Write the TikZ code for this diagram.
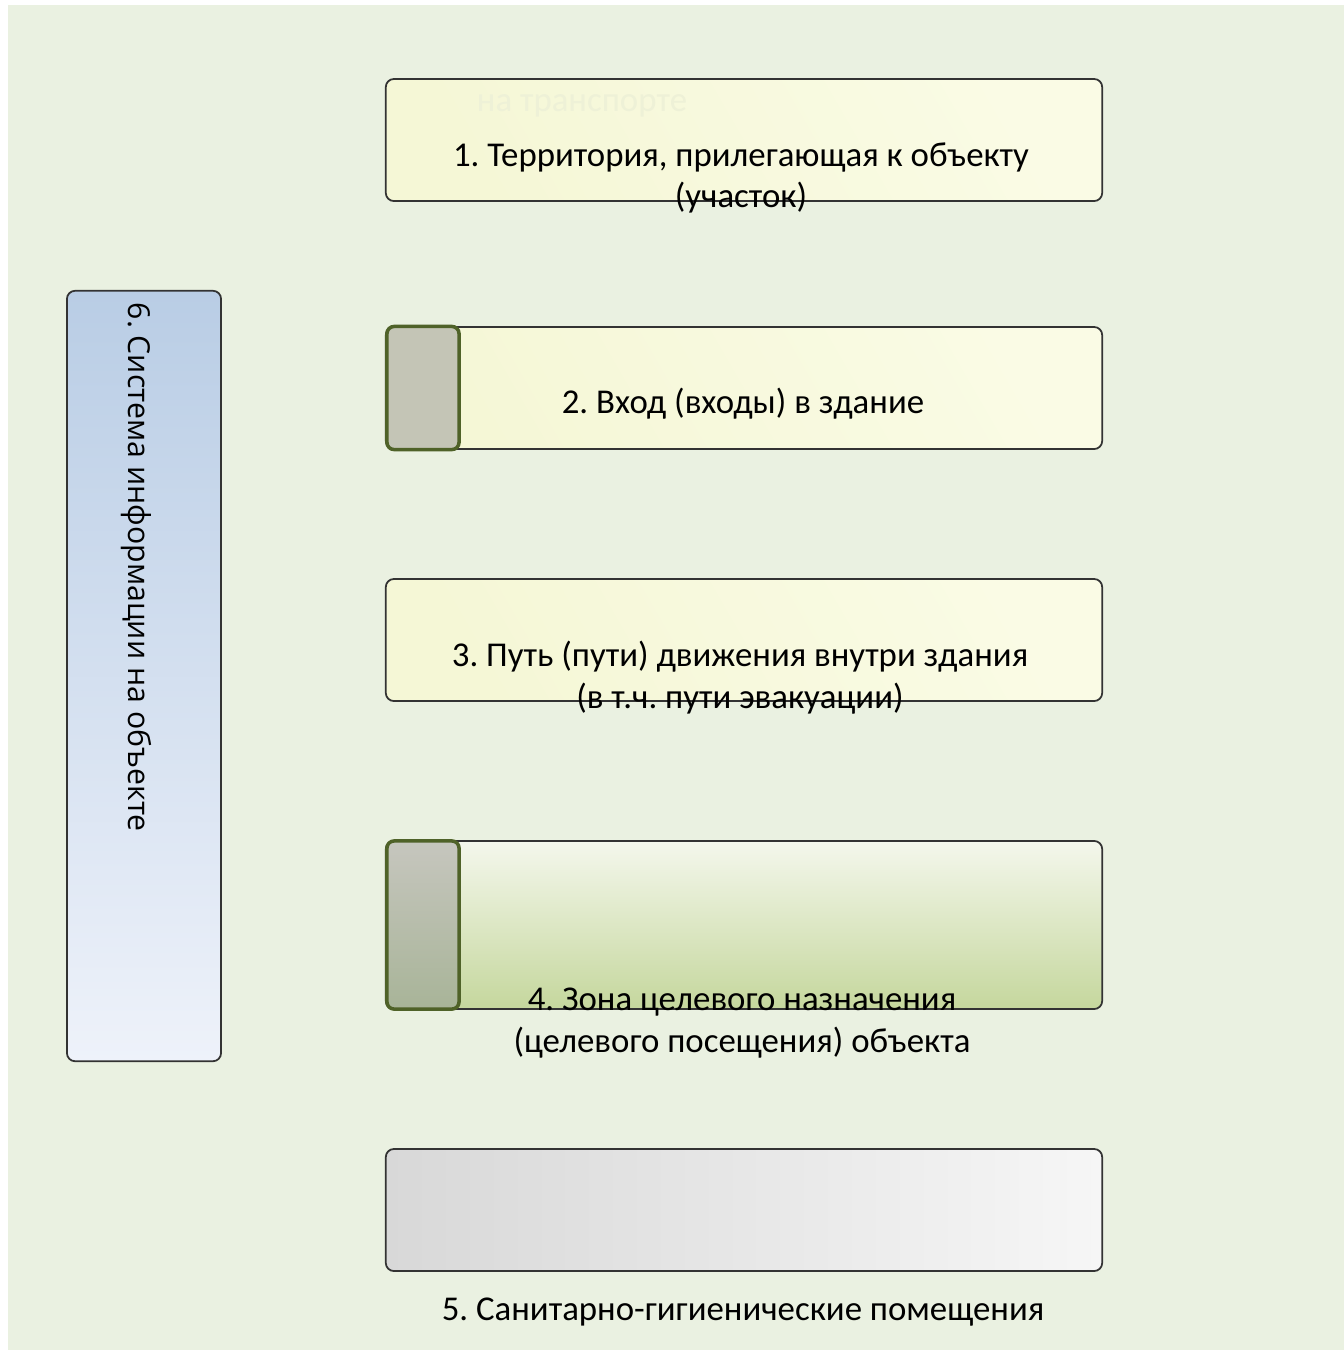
\documentclass[tikz,border=0pt]{standalone}
\usepackage{fontspec}
\setmainfont{Carlito}
\newfontfamily\sidefont{Open Sans}
\usetikzlibrary{positioning}
\frenchspacing

\definecolor{panelgreen}{HTML}{EAF1E1}
\definecolor{paleA}{HTML}{F5F7D6}
\definecolor{paleB}{HTML}{FAFBE5}
\definecolor{olive}{HTML}{4F6228}
\definecolor{tabgrey}{HTML}{C4C5B6}
\definecolor{ghost}{HTML}{EEF1D7}

\tikzset{
	zone/.style={draw=black!80, line width=0.5pt, rounded corners=2.3pt, minimum width=7.16cm, minimum height=1.22cm, inner sep=0pt},
	tab/.style={draw=olive, line width=1pt, rounded corners=2pt, minimum width=0.72cm, inner sep=0pt},
	caption/.style={align=center, font=\fontsize{9.9}{11.9}\selectfont, inner sep=0pt}
}

\begin{document}
\begin{tikzpicture}[x=0.01cm, y=-0.01cm]
		% Page and panel
		\useasboundingbox (0,0) rectangle (1344,1350);
		\fill[white] (0,0) rectangle (1344,1350);
		\fill[panelgreen] (8,5) rectangle (1344,1350);
		
		% Zones 1-3
		\node[zone, left color=paleA, right color=paleB, shading angle=120] (terr) at (744,140) {};
		\node[zone, left color=paleA, right color=paleB, shading angle=120] (entr) at (744,388) {};
		\node[zone, left color=paleA, right color=paleB, shading angle=120] (path) at (744,640) {};
		
		% Zone 4
		\node[zone, minimum height=1.68cm, top color={rgb,255:red,244;green,247;blue,236}, bottom color={rgb,255:red,197;green,215;blue,157}] (goal) at (744,925) {};
		
		% Zone 5
		\node[zone, left color={rgb,255:red,216;green,216;blue,216}, right color={rgb,255:red,246;green,246;blue,246}] (wc) at (744,1210) {};
		
		% Zone 6
		\node[zone, minimum width=1.54cm, minimum height=7.70cm, top color={rgb,255:red,185;green,205;blue,229}, bottom color={rgb,255:red,238;green,242;blue,250}] (info) at (144,676) {};
		
		% Grey tabs
		\node[tab, fill=tabgrey, minimum height=1.23cm] (tabentr) at (423,388) {};
		\node[tab, minimum height=1.68cm, top color={rgb,255:red,198;green,198;blue,190}, bottom color={rgb,255:red,168;green,180;blue,152}] (tabgoal) at (423,925) {};
		
		% Captions
		\node[caption, text=ghost] (ghosttxt) at (582,106) {на транспорте};
		\node[caption] (terrtxt) at (741,178) {1. Территория, прилегающая к объекту\\(участок)};
		\node[caption] (entrtxt) at (743,404) {2. Вход (входы) в здание};
		\node[caption] (pathtxt) at (740,678) {3. Путь (пути) движения внутри здания\\(в т.ч. пути эвакуации)};
		\node[caption] (goaltxt) at (742,1023) {4. Зона целевого назначения\\(целевого посещения) объекта};
		\node[caption] (wctxt) at (743,1312) {5. Санитарно-гигиенические помещения};
		\node[rotate=-90, anchor=west, inner sep=0pt, font=\sidefont\fontsize{8.6}{10}\selectfont] (infotxt) at (136,302) {6. Система информации на объекте};
	\end{tikzpicture}
\end{document}
